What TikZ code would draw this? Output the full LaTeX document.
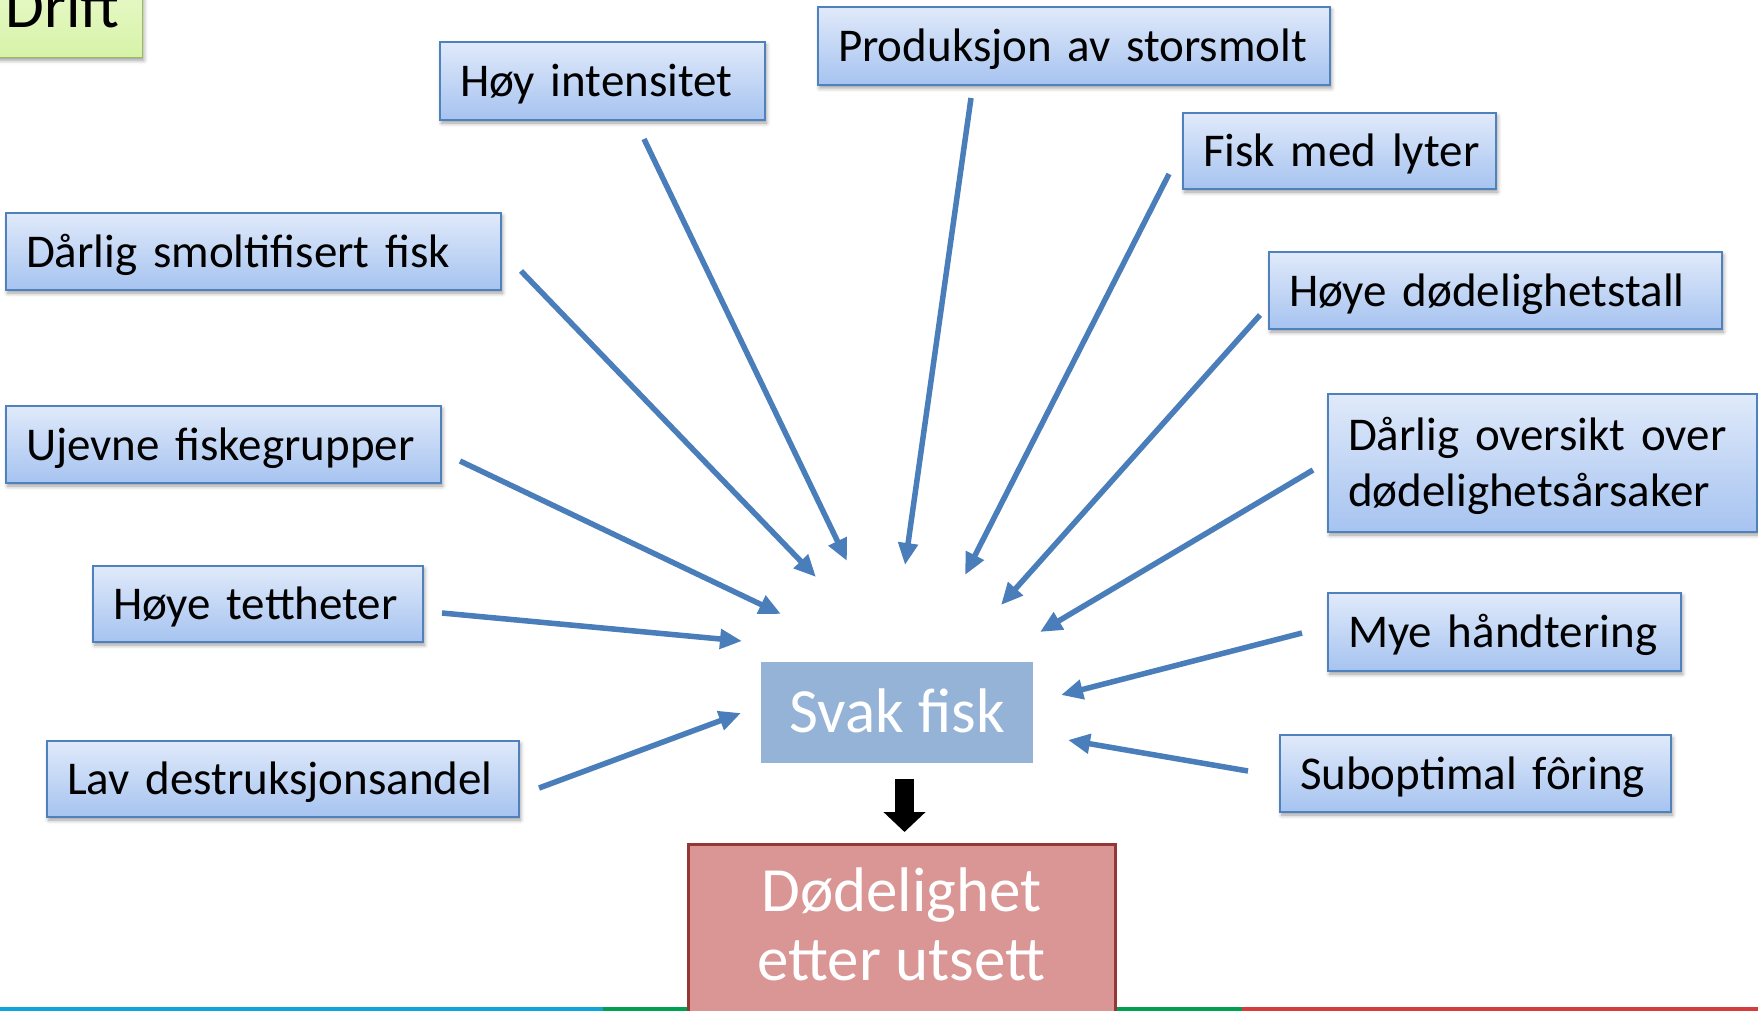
\documentclass[tikz,border=0pt]{standalone}
\usepackage{fontspec}
\setmainfont{Carlito}
\usetikzlibrary{arrows.meta,shadows.blur}
\definecolor{linkblue}{RGB}{74,126,187}
\definecolor{boxtop}{RGB}{224,234,250}
\definecolor{boxbot}{RGB}{166,195,240}
\definecolor{boxline}{RGB}{79,129,189}
\definecolor{svakfill}{RGB}{149,179,215}
\definecolor{dodfill}{RGB}{217,150,148}
\definecolor{dodline}{RGB}{149,55,53}
\definecolor{drifttop}{RGB}{244,252,222}
\definecolor{driftbot}{RGB}{214,243,168}
\definecolor{driftline}{RGB}{155,187,89}
\definecolor{stripblue}{RGB}{14,165,218}
\definecolor{stripgreen}{RGB}{0,160,80}
\definecolor{stripred}{RGB}{214,60,60}
\begin{document}
\begin{tikzpicture}[x=1pt,y=-1pt,
  cause/.style={draw=boxline, line width=1.4pt, top color=boxtop, bottom color=boxbot,
    blur shadow={shadow xshift=1.5pt, shadow yshift=-3pt, shadow blur radius=4pt, shadow opacity=40},
    font=\fontsize{47}{56}\selectfont, align=left, inner xsep=20pt, inner ysep=0pt,
    text height=31pt, text depth=0pt},
  link/.style={draw=linkblue, line width=5.5pt, -{Triangle[length=22pt,width=19pt]},
    preaction={draw=black, opacity=0.12, transform canvas={shift={(1pt,-2.5pt)}}}},
  svakbox/.style={fill=svakfill, text=white, font=\fontsize{63}{69}\selectfont,
    inner sep=0pt, text height=40.5pt, text depth=0pt},
  dodbox/.style={fill=dodfill, draw=dodline, line width=3pt, text=white,
    font=\fontsize{63}{69}\selectfont, align=center, inner ysep=0pt},
  driftbox/.style={draw=driftline, line width=1.4pt, top color=drifttop, bottom color=driftbot,
    blur shadow={shadow xshift=1.5pt, shadow yshift=-3pt, shadow blur radius=4pt, shadow opacity=40},
    font=\fontsize{63}{69}\selectfont, inner ysep=0pt},
  bigarrow/.style={line width=19pt, -{Triangle[length=20pt,width=41pt]}}
]
\useasboundingbox (0,0) rectangle (1758,1011);
\clip (0,0) rectangle (1758,1011);

% bottom strip
\fill[stripblue] (0,1007) rectangle (603,1011);
\fill[stripgreen] (603,1007) rectangle (1242,1011);
\fill[stripred] (1242,1007) rectangle (1758,1011);

% title box
\node[driftbox, anchor=south east, minimum width=160pt, minimum height=120pt,
      text height=90pt, text depth=30pt] (drift) at (143,58) {Drift};

% cause boxes
\node[cause, minimum width=325pt, text width=285pt, minimum height=78pt] (hi) at (602.5,81) {\mbox{Høy intensitet}};
\node[cause, minimum width=512pt, text width=472pt, minimum height=78pt] (ps) at (1074,46) {\mbox{Produksjon av storsmolt}};
\node[cause, minimum width=313pt, text width=273pt, minimum height=76pt] (fl) at (1339.5,151) {\mbox{Fisk med lyter}};
\node[cause, minimum width=453pt, text width=413pt, minimum height=77pt] (hd) at (1495.5,290.5) {\mbox{Høye dødelighetstall}};
\node[cause, minimum width=429pt, text width=389pt, minimum height=138pt, text depth=56pt] (do) at (1542.5,463) {Dårlig oversikt over\\dødelighetsårsaker};
\node[cause, minimum width=353pt, text width=313pt, minimum height=78pt] (mh) at (1504.5,632) {\mbox{Mye håndtering}};
\node[cause, minimum width=391pt, text width=351pt, minimum height=77pt] (so) at (1475.5,773.5) {\mbox{Suboptimal fôring}};
\node[cause, minimum width=495pt, text width=455pt, minimum height=77pt] (ds) at (253.5,251.5) {\mbox{Dårlig smoltifisert fisk}};
\node[cause, minimum width=435pt, text width=395pt, minimum height=77pt] (uf) at (223.5,444.5) {\mbox{Ujevne fiskegrupper}};
\node[cause, minimum width=330pt, text width=290pt, minimum height=76pt] (ht) at (258,604) {\mbox{Høye tettheter}};
\node[cause, minimum width=472pt, text width=432pt, minimum height=76pt] (ld) at (283,779) {\mbox{Lav destruksjonsandel}};

% central nodes
\node[svakbox, minimum width=272pt, minimum height=101pt] (svak) at (897,712.5) {Svak fisk};
\node[dodbox, anchor=north, minimum width=427pt, text height=136pt, text depth=120pt] (dod) at (901.5,843) {Dødelighet\\etter utsett};

% arrow end points
\coordinate (hi-s) at (644,139);   \coordinate (hi-e) at (847,561);
\coordinate (ps-s) at (971,98);    \coordinate (ps-e) at (905,565);
\coordinate (fl-s) at (1169,174);  \coordinate (fl-e) at (965,575);
\coordinate (hd-s) at (1260,315);  \coordinate (hd-e) at (1001,605);
\coordinate (do-s) at (1313,470);  \coordinate (do-e) at (1040,632);
\coordinate (mh-s) at (1302,633);  \coordinate (mh-e) at (1061,695);
\coordinate (so-s) at (1248,771);  \coordinate (so-e) at (1068,740);
\coordinate (ds-s) at (521,271);   \coordinate (ds-e) at (816,577);
\coordinate (uf-s) at (460,461);   \coordinate (uf-e) at (781,614);
\coordinate (ht-s) at (442,613);   \coordinate (ht-e) at (742,641);
\coordinate (ld-s) at (539,788);   \coordinate (ld-e) at (741,713);
\coordinate (svak-out) at (904.5,779);
\coordinate (dod-in) at (904.5,832);

\foreach \n in {hi,ps,fl,hd,do,mh,so,ds,uf,ht,ld}
  \draw[link] (\n-s) -- (\n-e);

\draw[bigarrow] (svak-out) -- (dod-in);
\end{tikzpicture}
\end{document}
